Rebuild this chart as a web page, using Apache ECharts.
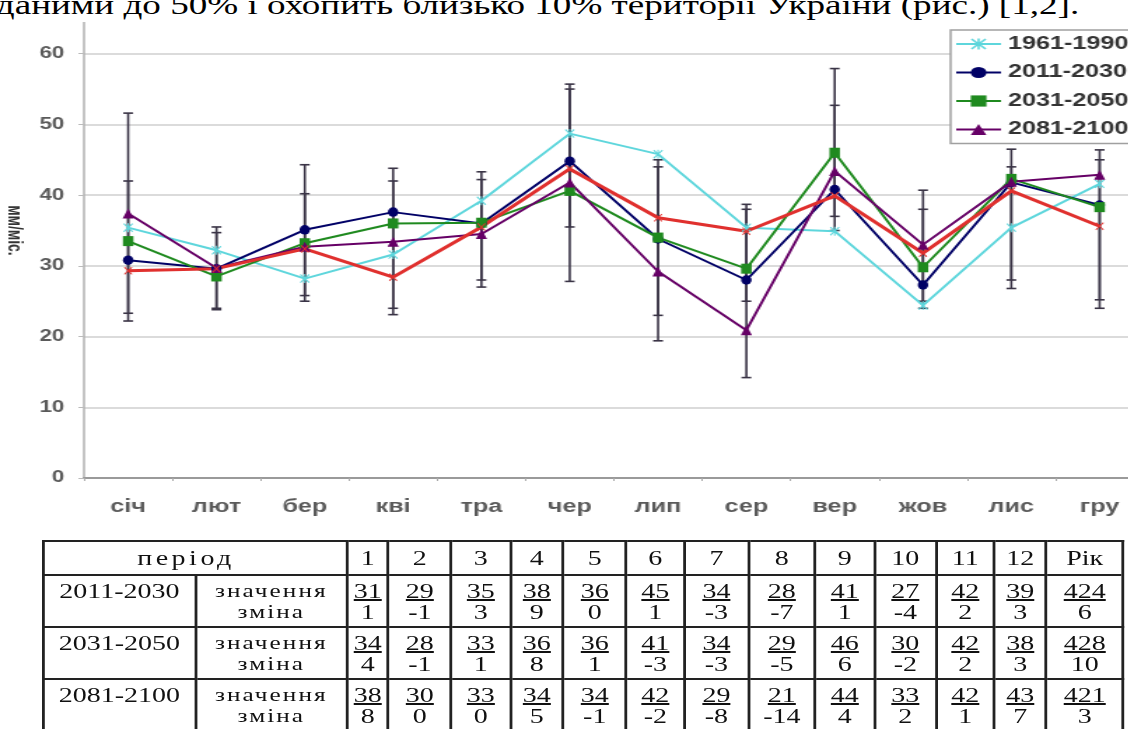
<!DOCTYPE html>
<html>
<head>
<meta charset="utf-8">
<script src="https://cdn.jsdelivr.net/npm/echarts@6/dist/echarts.min.js"></script>
<style>
body { margin: 0; background: #fff; overflow: hidden; }
/* the source picture is a scan stretched sideways, so the whole page is drawn narrow and stretched */
#page { position: absolute; left: 0; top: 0; width: 806.4px; height: 729px; transform: scaleX(1.4); transform-origin: 0 0; }
#sentence { position: absolute; left: 0; top: 0; width: 806px; height: 22px; overflow: hidden; background: #fff; z-index: 2; }
#sentence span { position: absolute; left: -3px; top: -8px; font-family: "Liberation Serif"; font-size: 26.5px; line-height: 27px; white-space: nowrap; color: #000; }
#chart { position: absolute; left: 0; top: -20px; width: 806px; height: 560px; }
#tbl { position: absolute; left: 30px; top: 540px; border-collapse: collapse; table-layout: fixed; font-family: "Liberation Serif"; font-size: 20px; color: #111; }
#tbl td { border: 2px solid #222; padding: 0; text-align: center; line-height: 21px; }
#tbl tr.head td { height: 32px; vertical-align: middle; }
#tbl tr.row td { height: 52px; vertical-align: top; padding-top: 5px; box-sizing: border-box; }
#tbl td.per { letter-spacing: 2.5px; text-align: left; padding-left: 66px; }
#tbl td.kind { font-size: 18px; letter-spacing: 1.5px; }
</style>
</head>
<body>
<div id="page">
  <div id="sentence"><span>даними до 50% і охопить близько 10% території України (рис.) [1,2].</span></div>
  <div id="chart"></div>
  <table id="tbl"></table>
</div>
<script>
let months = ['січ', 'лют', 'бер', 'кві', 'тра', 'чер', 'лип', 'сер', 'вер', 'жов', 'лис', 'гру'];

let base1961 = [35.4, 32.2, 28.2, 31.6, 39.2, 48.7, 45.8, 35.4, 34.9, 24.4, 35.4, 41.6];
let proj2011 = [30.8, 29.6, 35.1, 37.6, 36.0, 44.8, 33.8, 28.0, 40.8, 27.3, 41.8, 38.6];
let proj2031 = [33.5, 28.5, 33.2, 36.0, 36.1, 40.6, 34.0, 29.6, 46.0, 29.8, 42.3, 38.3];
let proj2081 = [37.4, 29.7, 32.7, 33.4, 34.5, 41.8, 29.2, 20.9, 43.4, 33.0, 41.9, 42.9];
let redLine  = [29.3, 29.6, 32.4, 28.4, 35.5, 43.7, 36.8, 34.9, 39.9, 31.8, 40.6, 35.6];

// error bars, two overlapping sets
let errLowA  = [22.2, 23.8, 25.0, 23.1, 27.0, 27.8, 19.4, 14.2, 35.0, 24.0, 26.8, 24.0];
let errHighA = [51.6, 35.5, 44.3, 43.8, 43.3, 55.7, 45.0, 38.7, 57.9, 40.7, 46.5, 46.4];
let errLowB  = [23.3, 24.0, 25.8, 24.0, 28.0, 35.5, 23.0, 25.0, 37.0, 25.0, 28.0, 25.2];
let errHighB = [42.0, 34.7, 40.2, 42.0, 42.2, 55.0, 44.0, 38.0, 52.7, 38.0, 44.0, 45.0];

// table
let monthNums = ['1', '2', '3', '4', '5', '6', '7', '8', '9', '10', '11', '12'];
let periods = ['2011-2030', '2031-2050', '2081-2100'];
let val2011 = [31, 29, 35, 38, 36, 45, 34, 28, 41, 27, 42, 39];
let chg2011 = [1, -1, 3, 9, 0, 1, -3, -7, 1, -4, 2, 3];
let val2031 = [34, 28, 33, 36, 36, 41, 34, 29, 46, 30, 42, 38];
let chg2031 = [4, -1, 1, 8, 1, -3, -3, -5, 6, -2, 2, 3];
let val2081 = [38, 30, 33, 34, 34, 42, 29, 21, 44, 33, 42, 43];
let chg2081 = [8, 0, 0, 5, -1, -2, -8, -14, 4, 2, 1, 7];
let yearVal = [424, 428, 421];
let yearChg = [6, 10, 3];

let colWidths = [108.6, 108.4, 29.4, 45, 42.2, 37.8, 45, 41.5, 45.7, 47.8, 42.2, 44.3, 41.4, 37.1, 55];

function build_table()
{
    let tbl = document.getElementById('tbl');
    let html = '<colgroup>';
    colWidths.forEach(w => { html += '<col style="width:' + w + 'px">'; });
    html += '</colgroup>';
    html += '<tr class="head"><td colspan="2" class="per">період</td>';
    monthNums.forEach(n => { html += '<td>' + n + '</td>'; });
    html += '<td style="border-bottom:none">Рік</td></tr>';
    let vals = [val2011, val2031, val2081];
    let chgs = [chg2011, chg2031, chg2081];
    for (let r = 0; r < periods.length; r++)
    {
        html += '<tr class="row"><td>' + periods[r] + '</td>';
        html += '<td class="kind">значення<br>зміна</td>';
        for (let i = 0; i < 12; i++)
        {
            html += '<td><u>' + vals[r][i] + '</u><br>' + chgs[r][i] + '</td>';
        }
        html += '<td><u>' + yearVal[r] + '</u><br>' + yearChg[r] + '</td></tr>';
    }
    tbl.innerHTML = html;
}

function error_bars(lows, highs)
{
    let data = [];
    for (let i = 0; i < lows.length; i++)
    {
        data.push([i, lows[i], highs[i]]);
    }
    return {
        type: 'custom',
        silent: true,
        z: 1,
        encode: {x: 0, y: [1, 2]},
        data: data,
        renderItem: function (params, api) {
            let lo = api.coord([api.value(0), api.value(1)]);
            let hi = api.coord([api.value(0), api.value(2)]);
            let w = 3.5;
            let st = {stroke: '#3a3446', lineWidth: 1.6};
            return {
                type: 'group',
                children: [
                    {type: 'line', shape: {x1: lo[0], y1: lo[1], x2: hi[0], y2: hi[1]}, style: st},
                    {type: 'line', shape: {x1: lo[0] - w, y1: lo[1], x2: lo[0] + w, y2: lo[1]}, style: st},
                    {type: 'line', shape: {x1: hi[0] - w, y1: hi[1], x2: hi[0] + w, y2: hi[1]}, style: st}
                ]
            };
        }
    };
}

let crossPath = 'path://M1,0L5,4L9,0L10,1L6,5L10,9L9,10L5,6L1,10L0,9L4,5L0,1Z';
let starPath = 'path://M1,0L5,4L9,0L10,1L6,5L10,9L9,10L5,6L1,10L0,9L4,5L0,1ZM4.3,0L5.7,0L5.7,10L4.3,10Z';

function line_series(name, data, colour, symbol, size, width)
{
    return {
        name: name,
        type: 'line',
        data: data,
        z: 3,
        symbol: symbol,
        symbolSize: size,
        showSymbol: true,
        lineStyle: {color: colour, width: width},
        itemStyle: {color: colour},
        emphasis: {disabled: true}
    };
}

build_table();

let myChart = echarts.init(document.getElementById('chart'));

let axisFont = {fontFamily: 'Liberation Sans', fontWeight: 'bold', color: '#5a5a5a'};

let option = {
    animation: false,
    grid: {left: 60, top: 3, width: 757, height: 495, outerBoundsMode: 'none', containLabel: false},
    legend: {
        data: ['1961-1990', '2011-2030', '2031-2050', '2081-2100'],
        orient: 'vertical',
        left: 679,
        top: 50,
        padding: [5, 40, 5, 3],
        itemWidth: 32,
        itemHeight: 14,
        itemGap: 10.5,
        backgroundColor: '#fff',
        borderColor: '#a0a0a0',
        borderWidth: 1.5,
        borderRadius: 0,
        textStyle: {fontFamily: 'Liberation Sans', fontSize: 18, fontWeight: 'bold', color: '#333'}
    },
    xAxis: {
        type: 'category',
        data: months,
        axisLine: {lineStyle: {color: '#9a9a9a', width: 2}},
        axisTick: {show: true, length: 3, lineStyle: {color: '#aaa'}},
        axisLabel: Object.assign({fontSize: 18, margin: 20}, axisFont)
    },
    yAxis: {
        type: 'value',
        min: 0,
        max: 70,
        interval: 10,
        name: 'мм/міс.',
        nameLocation: 'middle',
        nameRotate: -90,
        nameGap: 42,
        nameTextStyle: {fontFamily: 'Liberation Sans', fontSize: 14, fontWeight: 'bold', color: '#333'},
        axisLine: {show: true, lineStyle: {color: '#b0b0b0', width: 1.5}},
        axisTick: {show: true, length: 4, lineStyle: {color: '#bbb'}},
        axisLabel: Object.assign({fontSize: 16, margin: 14}, axisFont),
        splitLine: {lineStyle: {color: '#cfcfcf', width: 1.5}}
    },
    series: [
        error_bars(errLowA, errHighA),
        error_bars(errLowB, errHighB),
        line_series('1961-1990', base1961, '#5ed6dc', starPath, [7, 9], 2),
        line_series('2011-2030', proj2011, '#000066', 'circle', [7.5, 9.5], 2),
        line_series('2031-2050', proj2031, '#1f8a1f', 'rect', [7.5, 10], 2),
        line_series('2081-2100', proj2081, '#660066', 'triangle', [8, 10], 2),
        line_series('series5', redLine, '#e0302e', crossPath, [6, 8], 3)
    ]
};

myChart.setOption(option);
</script>
</body>
</html>
